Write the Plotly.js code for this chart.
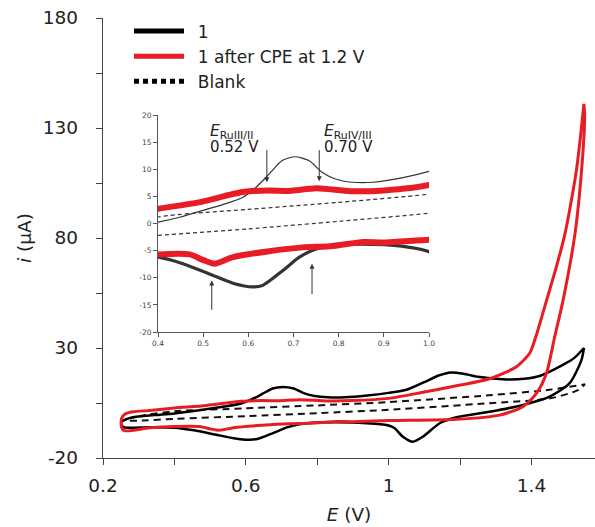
<!DOCTYPE html>
<html><head><meta charset="utf-8">
<script src="https://cdn.plot.ly/plotly-3.0.1.min.js"></script>
<style>html,body{margin:0;padding:0;background:#fff;}#chart{width:595px;height:527px;}</style>
</head><body><div id="chart"></div>
<script>
// Series "1" (black) – anodic (forward) and cathodic (reverse) sweeps
const black_fwd_x = [0.252,0.265,0.284,0.32,0.36,0.4,0.45,0.486,0.54,0.587,0.616,0.646,0.675,0.704,0.734,0.764,0.793,0.83,0.877,0.94,1.0,1.05,1.1,1.14,1.175,1.21,1.25,1.33,1.38,1.423,1.488,1.52,1.547];
const black_fwd_y = [-3.5,-2.4,-1.5,-0.8,-0.3,0.25,1.2,2.1,3.4,4.8,6.6,9.1,11.6,12.3,11.6,9.4,8.2,7.6,7.6,8.4,9.6,11.0,14.5,17.5,18.9,18.3,16.9,15.7,16.0,17.3,22.3,25.5,30];
const black_rev_x = [1.547,1.54,1.507,1.451,1.376,1.283,1.19,1.143,1.096,1.068,1.04,1.017,1.0,0.95,0.9,0.85,0.8,0.75,0.713,0.676,0.632,0.61,0.566,0.514,0.455,0.4,0.33,0.26,0.252];
const black_rev_y = [30,24.5,14,7.9,4.1,1.0,-1.5,-4.2,-10.3,-12.6,-10.3,-6.5,-5.2,-4.3,-3.9,-3.8,-3.9,-4.7,-6.2,-8.7,-11.4,-11.7,-11.0,-9.3,-7.4,-6.2,-6.0,-6.1,-5.0];

// Series "1 after CPE at 1.2 V" (red)
const red_fwd_x = [0.252,0.262,0.284,0.33,0.4,0.49,0.587,0.646,0.69,0.751,0.826,0.9,1.0,1.1,1.19,1.283,1.358,1.395,1.412,1.443,1.47,1.494,1.515,1.527,1.54,1.547];
const red_fwd_y = [-2.0,0.0,1.0,1.6,2.7,3.9,5.8,6.1,6.0,6.5,5.95,6.1,7.1,10.0,12.8,16.0,21.5,27.6,35,52,67,82,100,112,130,141];
const red_rev_x = [1.547,1.549,1.541,1.522,1.489,1.465,1.442,1.414,1.376,1.311,1.19,1.0,0.9,0.855,0.781,0.72,0.646,0.566,0.525,0.499,0.47,0.4,0.33,0.26,0.252];
const red_rev_y = [141,135,112,82,52,35,18.5,9.4,3.3,-0.5,-2.4,-3.0,-3.5,-3.4,-4.2,-4.4,-5.1,-6.2,-7.4,-6.7,-5.7,-5.7,-6.3,-7.6,-6.0];

// Series "Blank" (dashed)
const blank_fwd_x = [0.252,0.3,0.4,0.6,0.8,1.0,1.28,1.45,1.55];
const blank_fwd_y = [-3.0,-1.0,1.2,2.6,3.9,5.4,8.5,11.0,13.5];
const blank_rev_x = [1.55,1.53,1.45,1.28,1.0,0.8,0.6,0.4,0.3,0.252];
const blank_rev_y = [13.5,10.8,7.0,4.9,1.9,0.4,-1.0,-2.2,-3.0,-3.0];

const legendNames = ['1','1 after CPE at 1.2 V','Blank'];
const mainXTicks = [0.2,0.6,1.0,1.4];
const mainXLabels = ['0.2','0.6','1','1.4'];
const mainYTicks = [-20,30,80,130,180];
const mainYLabels = ['-20','30','80','130','180'];
const insetXTicks = [0.4,0.5,0.6,0.7,0.8,0.9,1.0];
const insetXLabels = ['0.4','0.5','0.6','0.7','0.8','0.9','1.0'];
const insetYTicks = [-20,-15,-10,-5,0,5,10,15,20];
const insetYLabels = ['-20','-15','-10','-5','0','5','10','15','20'];

const RED = 'rgb(232,28,36)';
const FONT = '"DejaVu Sans", "Open Sans", sans-serif';

function loop(xa, ya, xb, yb){ return {x: xa.concat(xb, [xa[0]]), y: ya.concat(yb, [ya[0]])}; }
const bl = loop(black_fwd_x, black_fwd_y, black_rev_x, black_rev_y);
const rd = loop(red_fwd_x, red_fwd_y, red_rev_x, red_rev_y);
const bk = loop(blank_fwd_x, blank_fwd_y, blank_rev_x, blank_rev_y);

const sp = {shape:'spline', smoothing:0.7};
const pad = '&nbsp;\u2009';
const traces = [
  // main plot
  {x: bk.x, y: bk.y, mode:'lines', line:Object.assign({color:'#111', width:2, dash:'7px,5px'}, sp), showlegend:false, hoverinfo:'skip'},
  {x: bl.x, y: bl.y, mode:'lines', line:Object.assign({color:'#000', width:2.5}, sp), showlegend:false, hoverinfo:'skip'},
  {x: rd.x, y: rd.y, mode:'lines', line:Object.assign({color:RED, width:3}, sp), showlegend:false, hoverinfo:'skip'},
  // inset
  {x: blank_fwd_x, y: blank_fwd_y, xaxis:'x2', yaxis:'y2', mode:'lines', line:Object.assign({color:'#333', width:1.2, dash:'4px,3px'}, sp), showlegend:false, hoverinfo:'skip'},
  {x: blank_rev_x, y: blank_rev_y, xaxis:'x2', yaxis:'y2', mode:'lines', line:Object.assign({color:'#333', width:1.2, dash:'4px,3px'}, sp), showlegend:false, hoverinfo:'skip'},
  {x: black_fwd_x, y: black_fwd_y, xaxis:'x2', yaxis:'y2', mode:'lines', line:Object.assign({color:'#333', width:1.2}, sp), showlegend:false, hoverinfo:'skip'},
  {x: black_rev_x, y: black_rev_y, xaxis:'x2', yaxis:'y2', mode:'lines', line:Object.assign({color:'#333', width:3.2}, sp), showlegend:false, hoverinfo:'skip'},
  {x: red_fwd_x, y: red_fwd_y, xaxis:'x2', yaxis:'y2', mode:'lines', line:Object.assign({color:RED, width:6}, sp), showlegend:false, hoverinfo:'skip'},
  {x: red_rev_x, y: red_rev_y, xaxis:'x2', yaxis:'y2', mode:'lines', line:Object.assign({color:RED, width:6}, sp), showlegend:false, hoverinfo:'skip'},
  // legend entries
  {x:[null], y:[null], mode:'lines', name:pad+legendNames[0], line:{color:'#000', width:5}},
  {x:[null], y:[null], mode:'lines', name:pad+legendNames[1], line:{color:RED, width:5}},
  {x:[null], y:[null], mode:'lines', name:pad+legendNames[2], line:{color:'#000', width:5, dash:'5px,4px'}}
];

const px2paperX = p => (p-103)/492;
const px2paperY = p => (458-p)/440;

const arrow = (x, y, ax, ay) => ({xref:'x2', yref:'y2', axref:'x2', ayref:'y2', x:x, y:y, ax:ax, ay:ay, text:'', showarrow:true, arrowhead:2, arrowsize:1, arrowwidth:1, arrowcolor:'#333', standoff:0, startstandoff:0});

const layout = {
  width:595, height:527,
  margin:{l:103, r:0, t:18, b:69, pad:0},
  paper_bgcolor:'#fff', plot_bgcolor:'rgba(0,0,0,0)',
  font:{family:FONT, color:'#222', size:18},
  showlegend:true,
  legend:{x:px2paperX(129), y:px2paperY(13.5), xanchor:'left', yanchor:'top', bgcolor:'rgba(0,0,0,0)', font:{size:17, color:'#222', family:FONT}, itemwidth:50, tracegroupgap:0},
  xaxis:{domain:[0,1], range:[0.2,1.578], tickvals:mainXTicks, ticktext:mainXLabels, ticks:'outside', ticklen:6, tickcolor:'#444', showline:true, linecolor:'#444', linewidth:1.2, showgrid:false, zeroline:false, tickfont:{size:18.5, color:'#222'}, ticklabelstandoff:5,
    minor:{tickvals:[0.4,0.8,1.2], ticks:'outside', ticklen:6, tickcolor:'#444', showgrid:false},
    title:{text:'<i>E</i> (V)', font:{size:18.5, color:'#222'}, standoff:12}},
  yaxis:{domain:[0,1], range:[-20,180], tickvals:mainYTicks, ticktext:mainYLabels, ticks:'outside', ticklen:6, tickcolor:'#444', showline:true, linecolor:'#444', linewidth:1.2, showgrid:false, zeroline:false, tickfont:{size:18.5, color:'#222'}, ticklabelstandoff:14,
    minor:{tickvals:[5,55,105,155], ticks:'outside', ticklen:6, tickcolor:'#444', showgrid:false},
    title:{text:'<i>i</i> (μA)', font:{size:18.5, color:'#222'}, standoff:6}},
  xaxis2:{domain:[px2paperX(158), px2paperX(429)], anchor:'y2', range:[0.4,1.0], tickvals:insetXTicks, ticktext:insetXLabels, ticks:'outside', ticklen:4, tickcolor:'#555', showline:true, linecolor:'#555', linewidth:1, showgrid:false, zeroline:false, tickfont:{size:7.5, color:'#444'}},
  yaxis2:{domain:[px2paperY(332), px2paperY(115)], anchor:'x2', range:[-20,20], tickvals:insetYTicks, ticktext:insetYLabels, ticks:'outside', ticklen:4, tickcolor:'#555', showline:true, linecolor:'#555', linewidth:1, showgrid:false, zeroline:false, tickfont:{size:7.5, color:'#444'}},
  annotations:[
    {xref:'paper', yref:'paper', x:px2paperX(208), y:px2paperY(132), xanchor:'left', yanchor:'middle', text:'<i>E</i><sub>RuIII/II</sub>', showarrow:false, font:{size:15.5, color:'#222'}},
    {xref:'paper', yref:'paper', x:px2paperX(208), y:px2paperY(147), xanchor:'left', yanchor:'middle', text:'0.52 V', showarrow:false, font:{size:15, color:'#222'}},
    {xref:'paper', yref:'paper', x:px2paperX(322), y:px2paperY(132), xanchor:'left', yanchor:'middle', text:'<i>E</i><sub>RuIV/III</sub>', showarrow:false, font:{size:15.5, color:'#222'}},
    {xref:'paper', yref:'paper', x:px2paperX(322), y:px2paperY(147), xanchor:'left', yanchor:'middle', text:'0.70 V', showarrow:false, font:{size:15, color:'#222'}},
    arrow(0.641, 7.6, 0.641, 13.8),
    arrow(0.757, 7.8, 0.757, 13.8),
    arrow(0.519, -10.5, 0.519, -16.2),
    arrow(0.741, -7.4, 0.741, -13.3)
  ]
};

Plotly.newPlot('chart', traces, layout, {displayModeBar:false, staticPlot:true});
</script></body></html>
